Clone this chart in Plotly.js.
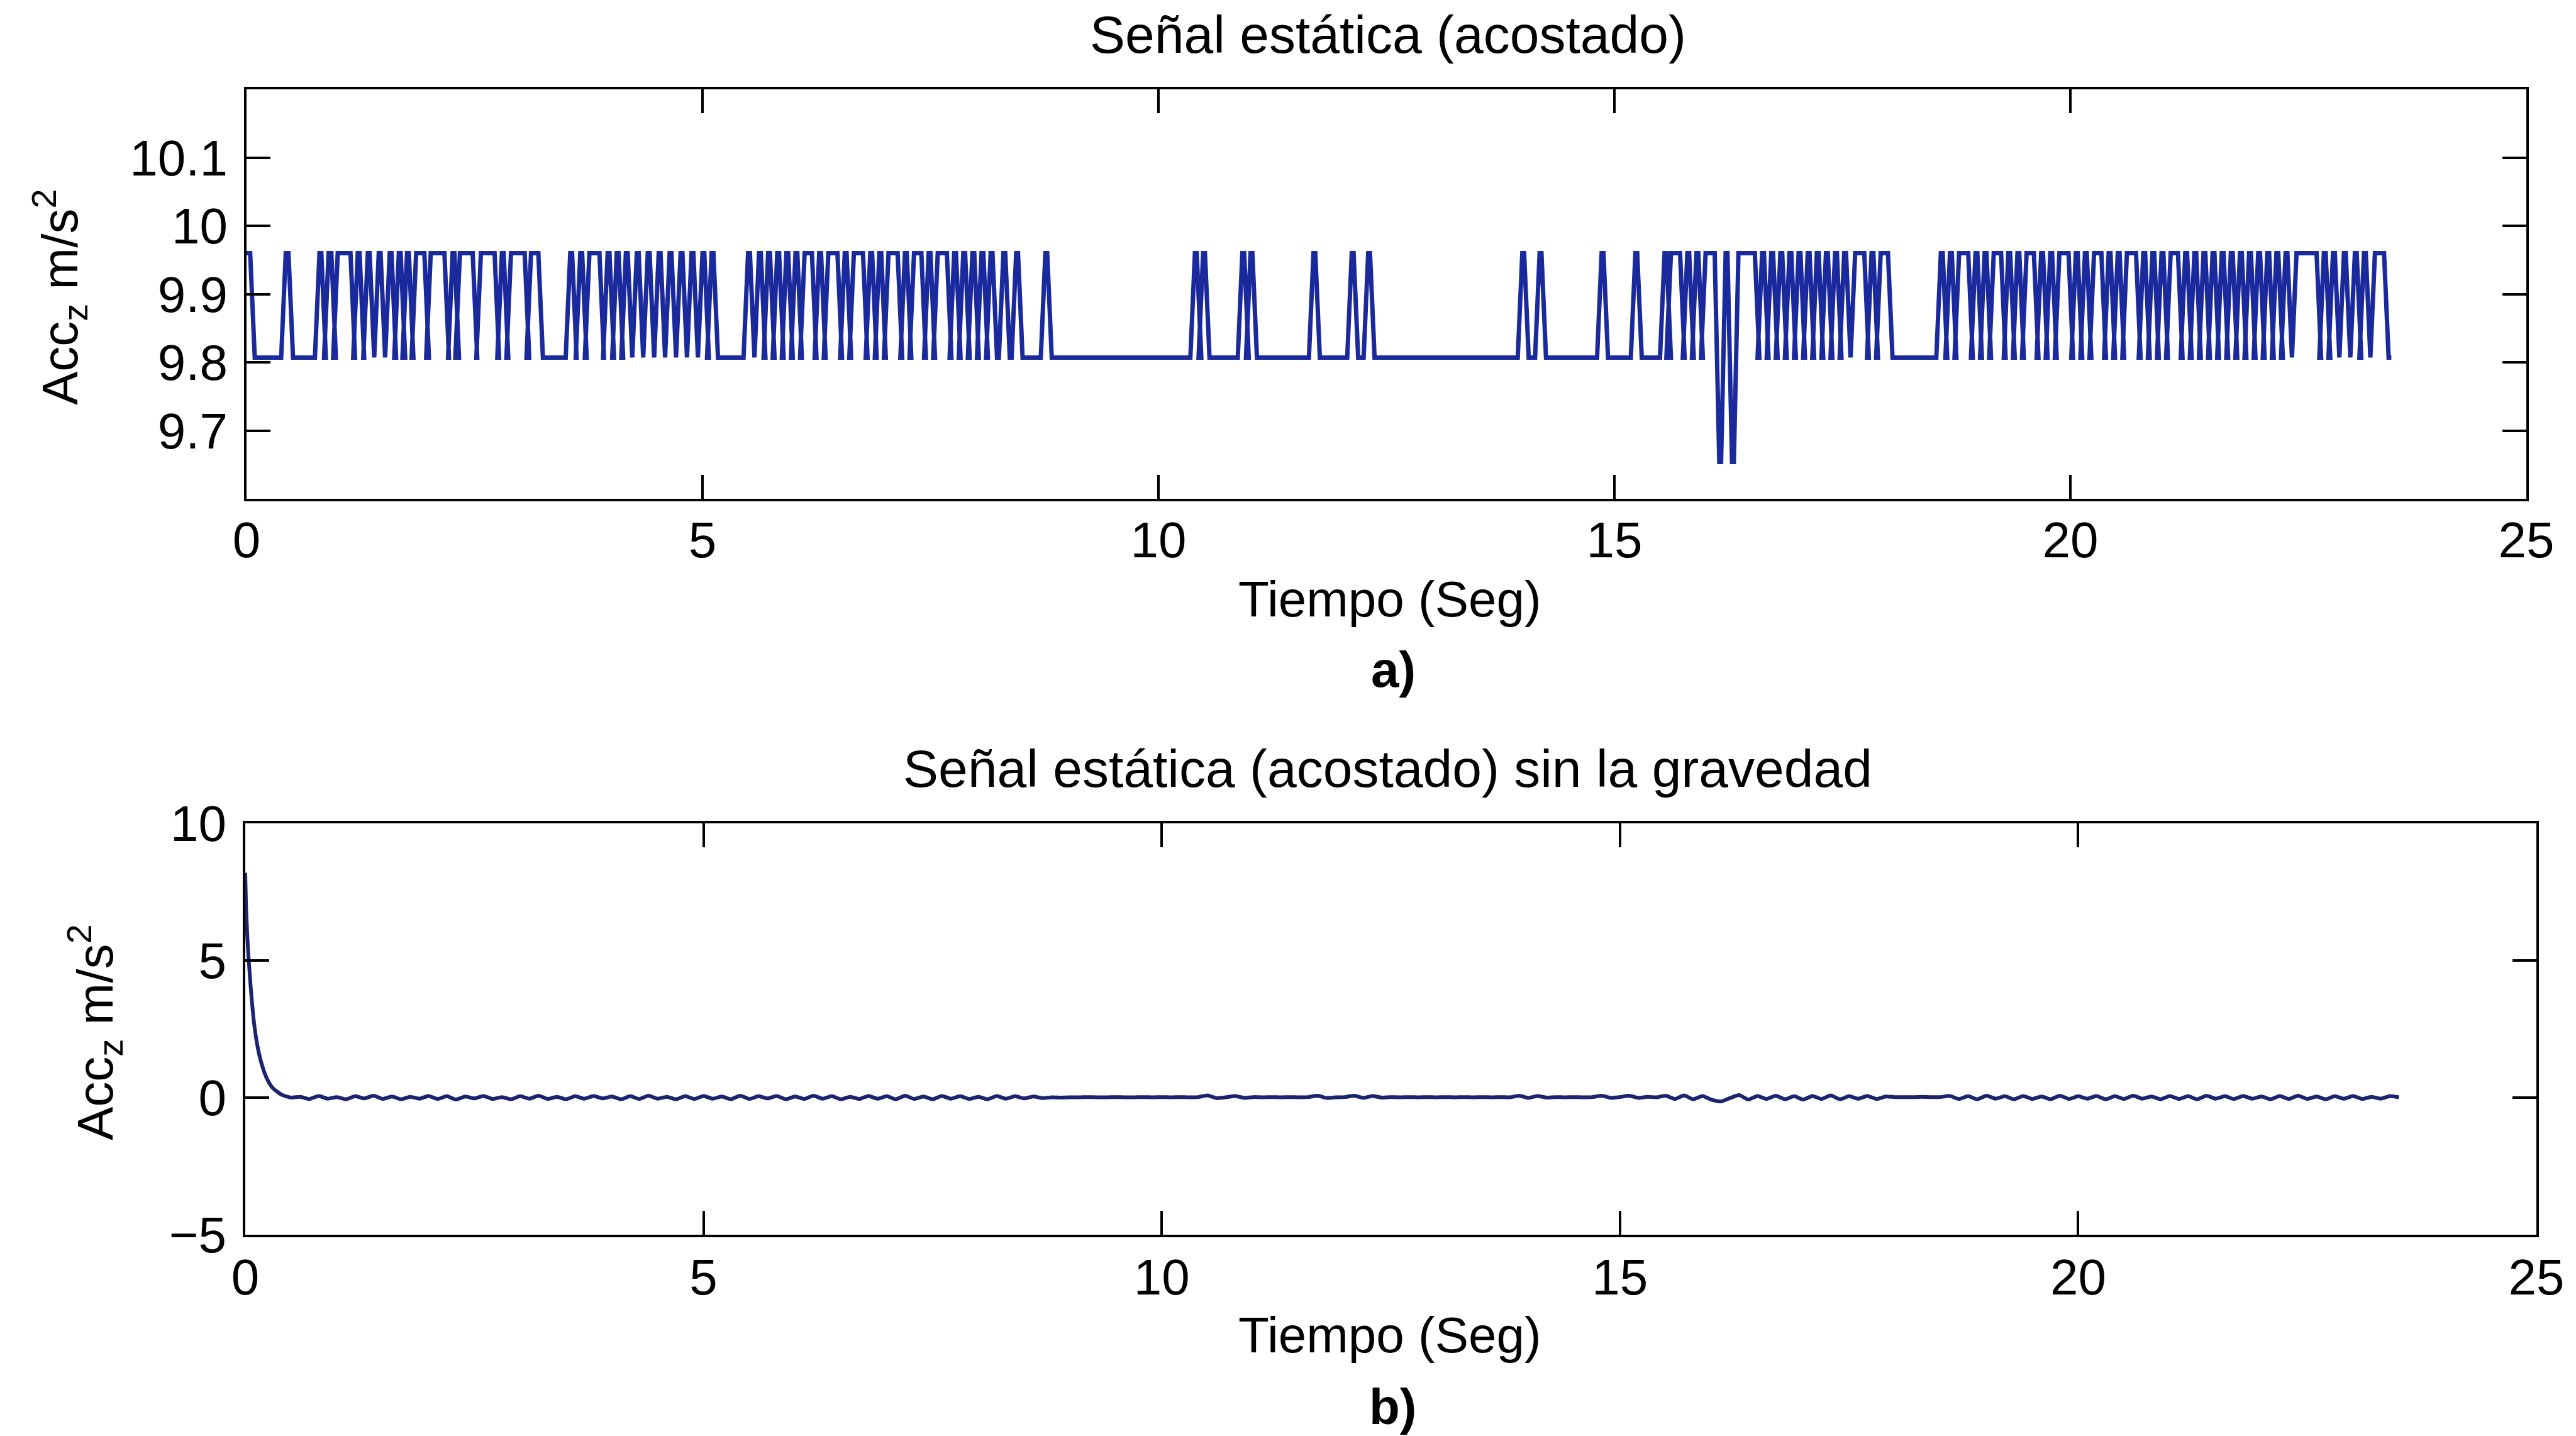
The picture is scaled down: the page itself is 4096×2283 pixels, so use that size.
<!DOCTYPE html>
<html>
<head>
<meta charset="utf-8">
<script src="https://cdn.plot.ly/plotly-3.0.1.min.js"></script>
<style>
  html, body { margin: 0; padding: 0; background: #ffffff; }
  #chart { width: 4096px; height: 2283px; }
</style>
</head>
<body>
<div id="chart"></div>
<script>
// ---- Señal estática (acostado): quantised accelerometer levels (m/s^2) ----
const levelLow  = 9.807;
const levelHigh = 9.960;
const levelDip  = 9.654;
const rampTime  = 0.05;   // one sample interval between levels (s)
const recordEnd = 23.52;  // end of the recording (s)

// plateau intervals [start, end] (s) where the signal sits at the upper level
const highPulses = [
  [0.43,0.46],
  [0.80,0.82],[0.90,0.93],[1.00,1.14],[1.22,1.24],[1.33,1.35],[1.45,1.47],[1.57,1.59],
  [1.67,1.69],[1.76,1.78],[1.86,1.95],[2.02,2.17],[2.26,2.28],[2.34,2.48],[2.57,2.72],
  [2.80,2.82],[2.90,3.05],[3.12,3.20],
  [3.55,3.57],[3.66,3.68],[3.76,3.87],[3.96,3.98],[4.06,4.08],[4.16,4.18],[4.28,4.30],
  [4.40,4.42],[4.52,4.54],[4.64,4.66],[4.76,4.78],[4.88,4.90],[5.00,5.02],[5.10,5.12],
  [5.50,5.52],[5.62,5.64],[5.72,5.74],[5.82,5.84],[5.92,5.94],[6.02,6.04],[6.12,6.20],
  [6.28,6.30],[6.38,6.48],[6.56,6.58],[6.66,6.76],[6.84,6.86],[6.94,6.96],[7.04,7.14],
  [7.22,7.24],[7.32,7.40],[7.48,7.50],[7.58,7.68],[7.76,7.78],[7.86,7.88],[7.96,7.98],
  [8.06,8.08],[8.16,8.18],[8.30,8.32],[8.44,8.46],[8.76,8.78],
  [10.40,10.42],[10.49,10.51],[10.92,10.94],[11.01,11.03],
  [11.70,11.72],
  [12.12,12.14],[12.30,12.32],
  [13.99,14.01],[14.18,14.20],
  [14.86,14.88],
  [15.23,15.25],
  [15.55,15.57],[15.62,15.72],[15.80,15.82],[15.90,15.92],[16.00,16.10],
  [16.36,16.54],[16.62,16.64],[16.72,16.74],[16.82,16.84],[16.92,16.94],[17.02,17.04],
  [17.12,17.14],[17.22,17.24],[17.32,17.34],[17.42,17.44],[17.52,17.54],[17.64,17.74],
  [17.82,17.84],[17.92,18.00],
  [18.58,18.60],[18.68,18.70],[18.78,18.88],[18.96,18.98],[19.06,19.08],[19.16,19.24],
  [19.32,19.34],[19.42,19.44],[19.52,19.60],[19.68,19.70],[19.78,19.80],[19.88,19.98],
  [20.06,20.08],[20.16,20.18],[20.26,20.34],[20.42,20.44],[20.52,20.54],[20.62,20.72],
  [20.80,20.82],[20.90,20.92],[21.00,21.02],[21.10,21.18],[21.26,21.28],[21.36,21.38],
  [21.46,21.48],[21.56,21.58],[21.66,21.68],[21.76,21.78],[21.86,21.88],[21.96,21.98],
  [22.06,22.08],[22.16,22.18],[22.26,22.28],[22.36,22.38],[22.48,22.70],[22.78,22.80],
  [22.88,22.90],[23.00,23.02],[23.12,23.14],[23.22,23.24],[23.34,23.44]
];
// two drops from the upper level to the lower quantisation step (16.1 s – 16.4 s)
const dipTimes  = [16.15, 16.17, 16.22, 16.24, 16.29, 16.31];
const dipValues = [levelDip, levelDip, levelHigh, levelHigh, levelDip, levelDip];

// ---- Señal estática (acostado) sin la gravedad (m/s^2) ----
// start-up transient of the gravity removal filter
const transientT = [0, 0.01, 0.03, 0.06, 0.10, 0.15, 0.20, 0.25, 0.30, 0.40, 0.50];
const transientV = [8.2, 6.8, 5.4, 4.0, 2.6, 1.6, 1.0, 0.6, 0.35, 0.10, 0.0];
// residual signal sampled every 0.1 s from 0.6 s
const residualStart = 0.6;
const residualStep  = 0.1;
const residualV = [
  0.03,-0.05,0.06,-0.04,0.02,-0.06,0.05,-0.03,0.07,-0.05,
  0.04,-0.06,0.03,-0.04,0.06,-0.05,0.05,-0.07,0.04,-0.03,
  0.06,-0.05,0.02,-0.06,0.05,-0.04,0.07,-0.05,0.03,-0.06,
  0.05,-0.04,0.06,-0.03,0.04,-0.06,0.05,-0.05,0.07,-0.04,
  0.03,-0.06,0.05,-0.05,0.06,-0.04,0.04,-0.06,0.07,-0.05,
  0.05,-0.03,0.06,-0.06,0.04,-0.05,0.07,-0.04,0.05,-0.06,
  0.03,-0.05,0.06,-0.04,0.05,-0.06,0.07,-0.05,0.04,-0.06,
  0.06,-0.04,0.05,-0.05,0.03,-0.06,0.06,-0.04,0.05,-0.03,
  0.04,-0.02,
  0.01,0.00,0.01,0.01,0.02,0.01,0.01,0.02,0.01,0.01,0.02,0.01,0.02,0.01,0.02,0.01,
  0.02,0.08,-0.02,0.01,0.06,-0.01,0.02,0.01,0.02,0.01,0.02,0.01,0.02,0.07,-0.01,0.01,
  0.02,0.07,-0.01,0.06,0.00,0.02,0.01,0.02,0.01,0.02,0.01,0.02,0.01,0.02,0.01,0.02,
  0.01,0.02,0.01,0.07,-0.01,0.06,0.00,0.02,0.01,0.02,0.01,0.02,0.07,-0.01,0.02,0.07,
  -0.01,0.03,0.01,
  0.07,-0.05,0.08,-0.06,0.06,-0.08,-0.14,-0.02,0.09,-0.07,0.06,-0.05,0.07,-0.06,0.05,
  -0.07,0.06,-0.05,0.08,-0.06,0.05,-0.04,0.06,-0.05,0.04,0.02,
  0.02,0.02,0.03,0.02,0.02,
  0.06,-0.05,0.05,-0.06,0.07,-0.04,0.05,-0.06,0.06,-0.05,
  0.04,-0.06,0.07,-0.05,0.05,-0.04,0.06,-0.06,0.05,-0.05,
  0.07,-0.04,0.04,-0.06,0.06,-0.05,0.05,-0.06,0.07,-0.04,
  0.05,-0.05,0.06,-0.04,0.04,-0.06,0.06,-0.05,0.07,-0.05,
  0.04,-0.06,0.05,-0.04,0.06,-0.05,0.03,-0.04,0.05,0.01
];

// ---- axis ticks ----
const xTicks   = [0, 5, 10, 15, 20, 25];
const yTicksA  = [9.7, 9.8, 9.9, 10, 10.1];
const yLabelsA = ['9.7', '9.8', '9.9', '10', '10.1'];
const yTicksB  = [-5, 0, 5, 10];
const yLabelsB = ['\u22125', '0', '5', '10'];

// ---- build the polyline of the quantised signal ----
const sigT = [0, 0.04, 0.04 + rampTime];
const sigV = [levelHigh, levelHigh, levelLow];
let dipDrawn = false;
highPulses.forEach(([a, b]) => {
  if (!dipDrawn && a > dipTimes[0]) {
    // the signal is still at the upper level when it drops into the dip
    sigT.pop(); sigV.pop();
    dipTimes.forEach((t, i) => { sigT.push(t); sigV.push(dipValues[i]); });
    sigT.push(a, b, b + rampTime);
    sigV.push(levelHigh, levelHigh, levelLow);
    dipDrawn = true;
    return;
  }
  sigT.push(a - rampTime, a, b, b + rampTime);
  sigV.push(levelLow, levelHigh, levelHigh, levelLow);
});
sigT.push(recordEnd);
sigV.push(levelLow);

const resT = transientT.slice();
const resV = transientV.slice();
residualV.forEach((v, i) => {
  resT.push(+(residualStart + i * residualStep).toFixed(2));
  resV.push(v);
});

// ---- page geometry (pixels) ----
const W = 4096, H = 2283;
const px = x => x / W;
const py = y => 1 - y / H;

const FONT = 'Liberation Sans, Arial, Helvetica, sans-serif';
const tickFont = { family: FONT, size: 80, color: '#000000' };

function axisStyle(extra) {
  return Object.assign({
    showline: true, mirror: 'ticks', linecolor: '#000000', linewidth: 4,
    ticks: 'inside', ticklen: 38, tickwidth: 4, tickcolor: '#000000',
    showgrid: false, zeroline: false, tickfont: tickFont, fixedrange: true
  }, extra);
}

const traces = [
  { x: sigT, y: sigV, xaxis: 'x', yaxis: 'y', type: 'scatter', mode: 'lines',
    line: { color: '#1a2a9c', width: 7 }, hoverinfo: 'skip' },
  { x: resT, y: resV, xaxis: 'x2', yaxis: 'y2', type: 'scatter', mode: 'lines',
    line: { color: '#1c2470', width: 6, shape: 'spline', smoothing: 0.6 }, hoverinfo: 'skip' }
];

function label(text, x, y, size, opts) {
  return Object.assign({
    text: text, xref: 'paper', yref: 'paper', x: px(x), y: py(y),
    xanchor: 'center', yanchor: 'middle', showarrow: false,
    font: { family: FONT, size: size, color: '#000000' }
  }, opts || {});
}

const layout = {
  width: W, height: H,
  margin: { l: 0, r: 0, t: 0, b: 0 },
  paper_bgcolor: '#ffffff', plot_bgcolor: '#ffffff',
  showlegend: false,
  xaxis: axisStyle({ domain: [px(392), px(4017)], range: [0, 25], tickvals: xTicks,
    ticktext: xTicks.map(String), anchor: 'y', ticklabelstandoff: -7 }),
  yaxis: axisStyle({ domain: [py(793), py(142)], range: [9.6, 10.2], tickvals: yTicksA,
    ticktext: yLabelsA, anchor: 'x', ticklabelstandoff: 10 }),
  xaxis2: axisStyle({ domain: [px(390), px(4033)], range: [0, 25], tickvals: xTicks,
    ticktext: xTicks.map(String), anchor: 'y2', ticklabelstandoff: -5 }),
  yaxis2: axisStyle({ domain: [py(1963), py(1309)], range: [-5, 10], tickvals: yTicksB,
    ticktext: yLabelsB, anchor: 'x2', ticklabelstandoff: 10 }),
  annotations: [
    label('Señal estática (acostado)', 2207, 55, 84),
    label('Tiempo (Seg)', 2210, 952, 80),
    label('<b>a)</b>', 2215, 1064, 80),
    label('Acc<sub>z</sub> m/s<sup>2</sup>', 95, 472, 80, { textangle: -90 }),
    label('Señal estática (acostado) sin la gravedad', 2206, 1222, 84),
    label('Tiempo (Seg)', 2210, 2122, 80),
    label('<b>b)</b>', 2215, 2236, 80),
    label('Acc<sub>z</sub> m/s<sup>2</sup>', 150, 1641, 80, { textangle: -90 })
  ]
};

Plotly.newPlot('chart', traces, layout, { displayModeBar: false, staticPlot: true });
</script>
</body>
</html>
